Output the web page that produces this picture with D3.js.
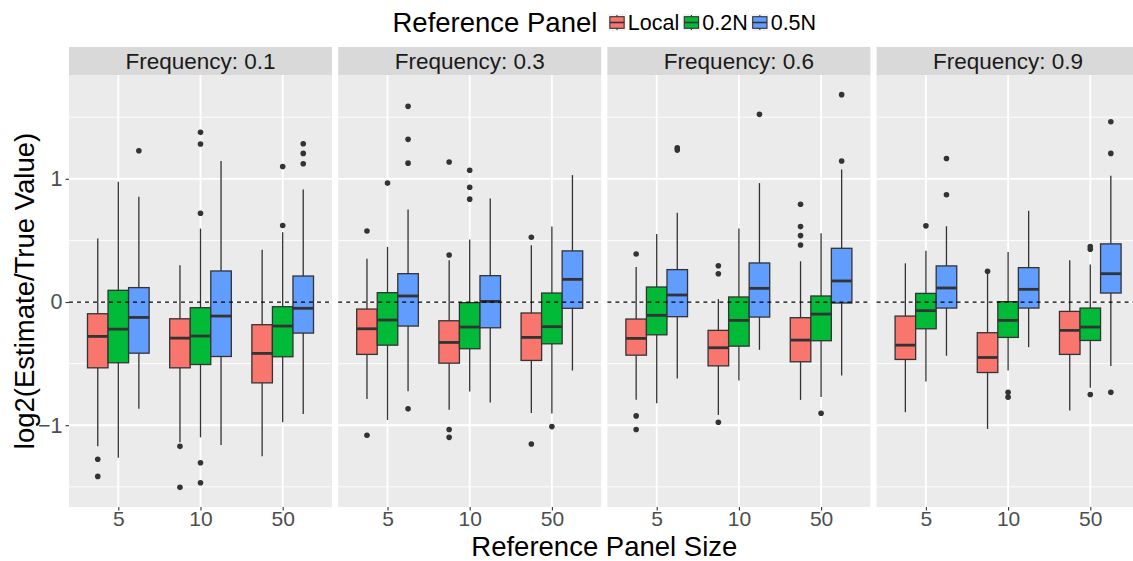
<!DOCTYPE html>
<html>

<head>
  <meta charset="utf-8" />
  <script src="https://d3js.org/d3.v7.min.js"></script>
  <style>
    body {
      margin: 0;
      background: white;
      font-family: "Liberation Sans", Arial, sans-serif;
    }
  </style>
</head>

<body>
  <svg id="chart" width="1133" height="561"></svg>

  <script>
    // facet / category labels
    const frequencies = ["0.1", "0.3", "0.6", "0.9"];
    const sizes = ["5", "10", "50"];
    const refPanels = ["Local", "0.2N", "0.5N"];
    const yTicks = [-1, 0, 1];
    const yMinor = [-1.5, -0.5, 0.5, 1.5];

    // box stats [lower whisker, Q1, median, Q3, upper whisker], rows: size 5 (Local, 0.2N, 0.5N), size 10, size 50
    const freq01Boxes = [
      [-1.17, -0.534, -0.279, -0.095, 0.515],
      [-1.263, -0.493, -0.22, 0.095, 0.976],
      [-0.867, -0.415, -0.125, 0.117, 0.854],
      [-1.138, -0.534, -0.293, -0.136, 0.298],
      [-1.098, -0.507, -0.276, -0.046, 0.596],
      [-1.16, -0.442, -0.114, 0.252, 1.144],
      [-1.252, -0.656, -0.417, -0.184, 0.425],
      [-0.976, -0.444, -0.195, -0.038, 0.566],
      [-0.908, -0.252, -0.051, 0.211, 0.913]
    ];
    const freq01Outliers = [[-1.276, -1.415], [], [1.228], [-1.171, -1.504], [1.377, 1.282, 0.721, -1.304, -1.466], [], [], [1.1, 0.621], [1.285, 1.206, 1.122]];

    const freq03Boxes = [
      [-0.786, -0.425, -0.217, -0.057, 0.352],
      [-0.957, -0.35, -0.146, 0.076, 0.447],
      [-0.724, -0.195, 0.049, 0.23, 0.751],
      [-0.875, -0.496, -0.328, -0.152, 0.339],
      [-0.726, -0.379, -0.203, -0.005, 0.507],
      [-0.816, -0.209, 0.005, 0.214, 0.84],
      [-0.9, -0.474, -0.287, -0.089, 0.461],
      [-0.905, -0.339, -0.2, 0.073, 0.612],
      [-0.556, -0.051, 0.184, 0.415, 1.03]
    ];
    const freq03Outliers = [[0.577, -1.081], [0.965], [1.588, 1.32, 1.127, -0.867], [1.136, 0.382, -1.035, -1.098], [1.07, 0.932, 0.835], [], [0.526, -1.152], [-1.011], []];

    const freq06Boxes = [
      [-0.794, -0.431, -0.295, -0.138, 0.285],
      [-0.821, -0.266, -0.108, 0.122, 0.553],
      [-0.621, -0.119, 0.057, 0.263, 0.724],
      [-0.916, -0.518, -0.371, -0.23, 0.024],
      [-0.637, -0.358, -0.149, 0.041, 0.596],
      [-0.388, -0.122, 0.111, 0.317, 0.965],
      [-0.794, -0.485, -0.309, -0.127, 0.331],
      [-0.77, -0.314, -0.098, 0.049, 0.558],
      [-0.596, -0.008, 0.171, 0.436, 1.076]
    ];
    const freq06Outliers = [[0.39, -0.924, -1.035], [], [1.252, 1.233], [0.295, 0.23, -0.976], [], [1.523], [0.794, 0.612, 0.539, 0.463], [-0.902], [1.683, 1.144]];

    const freq09Boxes = [
      [-0.894, -0.466, -0.35, -0.114, 0.314],
      [-0.645, -0.217, -0.07, 0.07, 0.417],
      [-0.436, -0.049, 0.114, 0.293, 0.615],
      [-1.03, -0.572, -0.45, -0.249, 0.24],
      [-0.556, -0.287, -0.149, 0.003, 0.407],
      [-0.366, -0.049, 0.103, 0.279, 0.74],
      [-0.881, -0.425, -0.23, -0.076, 0.339],
      [-0.696, -0.312, -0.203, -0.049, 0.304],
      [-0.52, 0.073, 0.23, 0.472, 1.024]
    ];
    const freq09Outliers = [[], [0.618], [1.165, 0.87], [0.25], [-0.732, -0.772], [], [], [0.45, 0.428, -0.751], [1.463, 1.206, -0.732]];

    const allBoxes = [freq01Boxes, freq03Boxes, freq06Boxes, freq09Boxes];
    const allOutliers = [freq01Outliers, freq03Outliers, freq06Outliers, freq09Outliers];

    const colors = ["#F8766D", "#00BA38", "#619CFF"];

    const svg = d3.select("#chart");
    const panelTop = 75, panelBottom = 507, stripTop = 47;
    const panelLeft = 69, panelW = 263, panelGap = 6.2;
    const panelsRight = panelLeft + 4 * panelW + 3 * panelGap;
    const midX = (panelLeft + panelsRight) / 2;

    // y range from data with 5% expansion, like ggplot
    let lo = Infinity, hi = -Infinity;
    allBoxes.forEach((fb, f) => fb.forEach((b, i) => {
      lo = Math.min(lo, b[0], ...allOutliers[f][i]);
      hi = Math.max(hi, b[4], ...allOutliers[f][i]);
    }));
    const pad = (hi - lo) * 0.05;
    const y = d3.scaleLinear().domain([lo - pad, hi + pad]).range([panelBottom, panelTop]);

    const facet = d3.scaleBand().domain(frequencies)
      .range([panelLeft, panelsRight]).paddingInner(panelGap / (panelW + panelGap));
    const x = d3.scalePoint().domain(sizes).range([0, panelW]).padding(0.6);
    const step = x.step();
    const dodge = d3.scaleBand().domain(refPanels).range([-0.375 * step, 0.375 * step]);
    const boxW = dodge.bandwidth();

    frequencies.forEach((freq, f) => {
      const g = svg.append("g").attr("transform", "translate(" + facet(freq) + ",0)");

      // strip
      g.append("rect").attr("x", 0).attr("y", stripTop).attr("width", panelW)
        .attr("height", panelTop - stripTop).attr("fill", "#D9D9D9");
      g.append("text").attr("x", panelW / 2).attr("y", (stripTop + panelTop) / 2 + 7.5)
        .attr("text-anchor", "middle").attr("font-size", 22.5).attr("fill", "#1A1A1A")
        .text("Frequency: " + freq);

      // panel background and grid
      g.append("rect").attr("x", 0).attr("y", panelTop).attr("width", panelW)
        .attr("height", panelBottom - panelTop).attr("fill", "#EBEBEB");
      g.selectAll(".minor").data(yMinor).join("line")
        .attr("x1", 0).attr("x2", panelW)
        .attr("y1", d => y(d)).attr("y2", d => y(d))
        .attr("stroke", "white").attr("stroke-width", 0.9);
      g.selectAll(".majorY").data(yTicks).join("line")
        .attr("x1", 0).attr("x2", panelW)
        .attr("y1", d => y(d)).attr("y2", d => y(d))
        .attr("stroke", "white").attr("stroke-width", 1.8);
      g.selectAll(".majorX").data(sizes).join("line")
        .attr("x1", d => x(d)).attr("x2", d => x(d))
        .attr("y1", panelTop).attr("y2", panelBottom)
        .attr("stroke", "white").attr("stroke-width", 1.8);

      // boxes
      const rows = [];
      sizes.forEach((s, si) => refPanels.forEach((p, pi) => {
        rows.push({ size: s, panel: p, ci: pi, b: allBoxes[f][si * 3 + pi], out: allOutliers[f][si * 3 + pi] });
      }));

      const bx = g.selectAll(".box").data(rows).join("g")
        .attr("transform", d => "translate(" + (x(d.size) + dodge(d.panel)) + ",0)");
      bx.append("line")
        .attr("x1", boxW / 2).attr("x2", boxW / 2)
        .attr("y1", d => y(d.b[4])).attr("y2", d => y(d.b[3]))
        .attr("stroke", "#333333").attr("stroke-width", 1.3);
      bx.append("line")
        .attr("x1", boxW / 2).attr("x2", boxW / 2)
        .attr("y1", d => y(d.b[1])).attr("y2", d => y(d.b[0]))
        .attr("stroke", "#333333").attr("stroke-width", 1.3);
      bx.append("rect")
        .attr("x", 0).attr("width", boxW)
        .attr("y", d => y(d.b[3])).attr("height", d => y(d.b[1]) - y(d.b[3]))
        .attr("fill", d => colors[d.ci]).attr("stroke", "#333333").attr("stroke-width", 1.3);
      bx.append("line")
        .attr("x1", 0).attr("x2", boxW)
        .attr("y1", d => y(d.b[2])).attr("y2", d => y(d.b[2]))
        .attr("stroke", "#333333").attr("stroke-width", 2.8);
      bx.selectAll("circle").data(d => d.out).join("circle")
        .attr("cx", boxW / 2).attr("cy", d => y(d)).attr("r", 2.8)
        .attr("fill", "#333333");

      // reference line at zero
      g.append("line").attr("x1", 0).attr("x2", panelW)
        .attr("y1", y(0)).attr("y2", y(0))
        .attr("stroke", "black").attr("stroke-width", 1.3).attr("stroke-dasharray", "4,4");

      // x axis
      const xAxis = g.append("g").attr("transform", "translate(0," + panelBottom + ")")
        .call(d3.axisBottom(x).tickSize(3.5).tickPadding(1));
      xAxis.select(".domain").remove();
      xAxis.selectAll("line").attr("stroke", "#333333").attr("stroke-width", 1.1);
      xAxis.selectAll("text").attr("font-size", 21).attr("fill", "#4D4D4D")
        .attr("font-family", "Liberation Sans, Arial, sans-serif");
    });

    // y axis
    const yAxis = svg.append("g").attr("transform", "translate(" + panelLeft + ",0)")
      .call(d3.axisLeft(y).tickValues(yTicks).tickSize(3.5).tickPadding(3)
        .tickFormat(d => d < 0 ? "\u2212" + Math.abs(d) : d));
    yAxis.select(".domain").remove();
    yAxis.selectAll("line").attr("stroke", "#333333").attr("stroke-width", 1.1);
    yAxis.selectAll("text").attr("font-size", 21.5).attr("fill", "#4D4D4D")
      .attr("font-family", "Liberation Sans, Arial, sans-serif");

    // axis titles
    svg.append("text")
      .attr("transform", "translate(34," + ((panelTop + panelBottom) / 2) + ")rotate(-90)")
      .attr("text-anchor", "middle").attr("font-size", 27.5).attr("fill", "black")
      .text("log2(Estimate/True Value)");
    svg.append("text")
      .attr("x", midX).attr("y", 556)
      .attr("text-anchor", "middle").attr("font-size", 27.5).attr("fill", "black")
      .text("Reference Panel Size");

    // legend on top
    const legend = svg.append("g");
    const lt = legend.append("text").attr("x", 0).attr("y", 31.5)
      .attr("font-size", 27.5).attr("fill", "black").text("Reference Panel");
    let cx = lt.node().getComputedTextLength() + 11;
    const keyW = 17.3, keyTop = 14, keyH = 17;
    refPanels.forEach((p, i) => {
      const k = legend.append("g").attr("transform", "translate(" + cx + "," + keyTop + ")");
      k.append("rect").attr("width", keyW).attr("height", keyH).attr("fill", "#F2F2F2");
      k.append("line").attr("x1", keyW / 2).attr("x2", keyW / 2).attr("y1", 1).attr("y2", keyH - 1)
        .attr("stroke", "#333333").attr("stroke-width", 1.1);
      k.append("rect").attr("x", 1.5).attr("y", 2.7).attr("width", keyW - 3).attr("height", keyH - 5.4)
        .attr("fill", colors[i]).attr("stroke", "#333333").attr("stroke-width", 1.1);
      k.append("line").attr("x1", 1.5).attr("x2", keyW - 1.5).attr("y1", keyH / 2).attr("y2", keyH / 2)
        .attr("stroke", "#333333").attr("stroke-width", 1.6);
      const t = legend.append("text").attr("x", cx + keyW + 2.2).attr("y", 29.5)
        .attr("font-size", 21.5).attr("fill", "black").text(p);
      cx += keyW + 2.2 + t.node().getComputedTextLength() + 3.5;
    });
    const legendW = cx - 3.5;
    legend.attr("transform", "translate(" + (midX - legendW / 2) + ",0)");
  </script>
</body>

</html>
